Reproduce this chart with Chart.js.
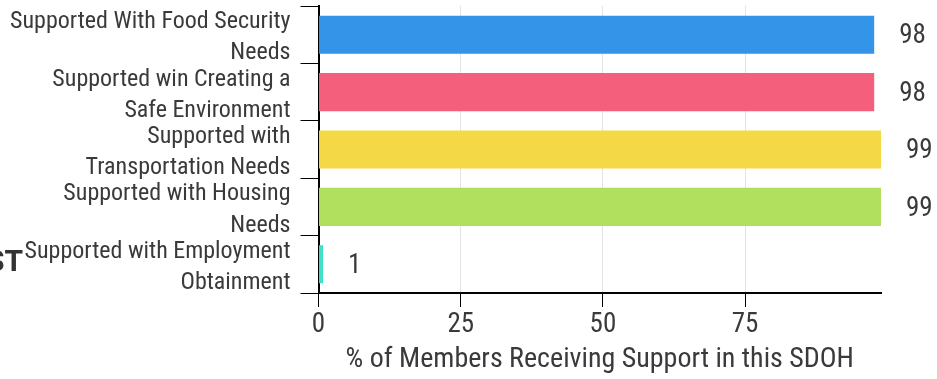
<!DOCTYPE html>
<html>
<head>
<meta charset="utf-8">
<script src="https://cdn.jsdelivr.net/npm/chart.js@4.4.0/dist/chart.umd.min.js"></script>
<style>
  html, body { margin: 0; padding: 0; background: #fff; overflow: hidden; }
  #wrap { position: relative; width: 937px; height: 379px; }
  #side { position: absolute; left: -14px; top: 243px; font: bold 30px Roboto, sans-serif; color: #333; }
</style>
</head>
<body>
<div id="wrap">
  <canvas id="c" width="937" height="379"></canvas>
  <div id="side">ST</div>
</div>
<script>
const FONT = '"Roboto Condensed", "Liberation Sans Narrow", "Arial Narrow", Roboto, sans-serif';
const categories = [
  ["Supported With Food Security", "Needs"],
  ["Supported win Creating a", "Safe Environment"],
  ["Supported with", "Transportation Needs"],
  ["Supported with Housing", "Needs"],
  ["Supported with Employment", "Obtainment"]
];
const values = [97.7, 97.7, 98.9, 98.9, 0.8];
const valueLabels = ["98", "98", "99", "99", "1"];
const xTicks = [0, 25, 50, 75];
const barColors = ["#3394E8", "#F45F7B", "#F5D845", "#B1DF5E", "#40E0C8"];
const xTitle = "% of Members Receiving Support in this SDOH";

const labelPlugin = {
  id: 'endLabels',
  afterDatasetsDraw(chart) {
    const ctx = chart.ctx;
    const meta = chart.getDatasetMeta(0);
    ctx.save();
    ctx.font = '27px ' + FONT;
    ctx.fillStyle = '#3a3a3a';
    ctx.textAlign = 'left';
    ctx.textBaseline = 'middle';
    meta.data.forEach((bar, i) => {
      ctx.fillText(valueLabels[i], bar.x + 25, bar.y + 2);
    });
    ctx.restore();
  }
};

new Chart(document.getElementById('c'), {
  type: 'bar',
  data: {
    labels: categories,
    datasets: [{
      data: values,
      backgroundColor: barColors,
      borderWidth: 0,
      barPercentage: 0.83,
      categoryPercentage: 0.8
    }]
  },
  options: {
    indexAxis: 'y',
    responsive: false,
    animation: false,
    layout: { padding: { top: 6, right: 56, left: 0, bottom: 2 } },
    plugins: { legend: { display: false }, tooltip: { enabled: false } },
    scales: {
      x: {
        min: 0,
        max: Math.max(...values),
        afterBuildTicks(axis) { axis.ticks = xTicks.map(v => ({ value: v })); },
        ticks: { color: '#3a3a3a', font: { family: FONT, size: 27 }, padding: 2 },
        grid: { color: '#e3e3e3', tickColor: '#000', tickLength: 14, lineWidth: 1 },
        border: { color: '#000', width: 2 },
        title: { display: true, text: xTitle, color: '#3a3a3a', font: { family: FONT, size: 28 }, padding: { top: 0, bottom: 0 } }
      },
      y: {
        afterFit(scale) { scale.paddingTop = 0; scale.paddingBottom = 0; },
        ticks: { color: '#3a3a3a', autoSkip: false, labelOffset: 3, font: { family: FONT, size: 24, lineHeight: 1.3 }, padding: 10 },
        grid: { drawOnChartArea: false, tickColor: '#000', tickLength: 18 },
        border: { color: '#000', width: 2 }
      }
    }
  },
  plugins: [labelPlugin]
});
</script>
</body>
</html>
